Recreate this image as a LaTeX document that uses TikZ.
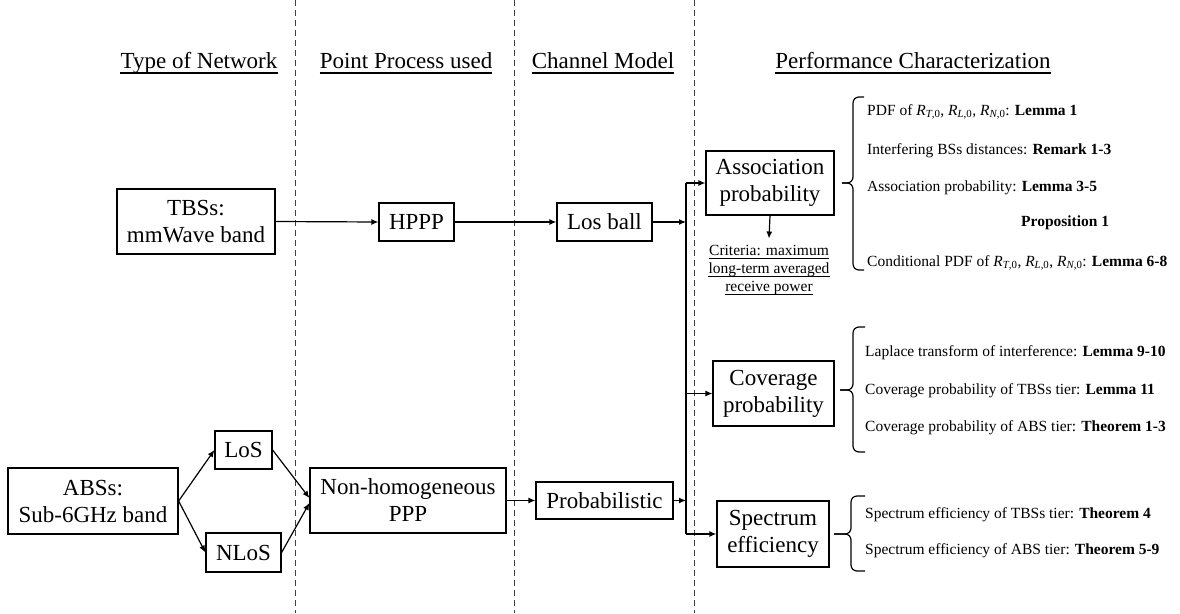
\documentclass[tikz,border=0pt]{standalone}
\usepackage{fontspec}
\setmainfont{Liberation Serif}
\usetikzlibrary{arrows.meta}
\newcommand\RsubX[1]{\textit{R}\textsubscript{\textit{#1},0}}
\begin{document}
\begin{tikzpicture}[x=1pt,y=-1pt,
  bx/.style={draw, line width=1.2pt, inner sep=0pt, align=center, font=\fontsize{23}{27}\selectfont},
  hd/.style={inner sep=0pt, anchor=base, font=\fontsize{23}{27}\selectfont},
  cr/.style={inner sep=0pt, anchor=base, font=\fontsize{15.5}{18}\selectfont},
  sd/.style={inner sep=0pt, anchor=west, font=\fontsize{15.5}{18}\selectfont},
  ar/.style={line width=1.2pt, -{Latex[length=7pt,width=6pt]}},
  br/.style={line width=1.2pt, rounded corners=6pt},
  dl/.style={dash pattern=on 6pt off 4pt, line width=0.9pt, black!75},
  ul/.style={line width=#1}
]
\useasboundingbox (0,0) rectangle (1180,613);
% dashed separators
\draw[dl] (295,0) -- (295,613);
\draw[dl] (514,0) -- (514,613);
\draw[dl] (694,0) -- (694,613);
% headers
\node[hd] (h1) at (199,68) {Type of Network};
\node[hd] (h2) at (406,68) {Point Process used};
\node[hd] (h3) at (603,68) {Channel Model};
\node[hd] (h4) at (913,68) {Performance Characterization};
\foreach \h in {h1,h2,h3,h4}
  \draw[ul=2pt] ([yshift=-4.5pt]\h.base west) -- ([yshift=-4.5pt]\h.base east);
% boxes
\node[bx, minimum width=158pt, minimum height=65pt] (tbs) at (196,221.5) {TBSs:\\mmWave band};
\node[bx, minimum width=75pt, minimum height=38pt] (hppp) at (416.5,222) {HPPP};
\node[bx, minimum width=95pt, minimum height=38pt] (lb) at (604.5,222) {Los ball};
\node[bx, minimum width=170pt, minimum height=66pt] (abs) at (93,501) {ABSs:\\Sub-6GHz band};
\node[bx, minimum width=57pt, minimum height=38pt] (los) at (243.5,450) {LoS};
\node[bx, minimum width=75pt, minimum height=39pt] (nlos) at (243.5,552.5) {NLoS};
\node[bx, minimum width=196pt, minimum height=65pt] (nh) at (408,500.5) {Non-homogeneous\\PPP};
\node[bx, minimum width=137pt, minimum height=37pt] (prob) at (604.5,500.5) {Probabilistic};
\node[bx, minimum width=128pt, minimum height=64pt] (assoc) at (770,183) {Association\\probability};
\node[bx, minimum width=121pt, minimum height=65pt] (cov) at (773.5,393.5) {Coverage\\probability};
\node[bx, minimum width=112pt, minimum height=66pt] (spec) at (773,534) {Spectrum\\efficiency};
% criteria
\node[cr] (c1) at (769,255) {Criteria: maximum};
\node[cr] (c2) at (769,273) {long-term averaged\ };
\node[cr] (c3) at (769,291) {receive power};
\foreach \c in {c1,c2,c3}
  \draw[ul=1pt] ([yshift=-3pt]\c.base west) -- ([yshift=-3pt]\c.base east);
\draw[ar] (assoc.south) -- ([yshift=6pt]c1.north);
% connectors
\coordinate (vx) at (686,0);
\draw[ar] (tbs.east) -- (hppp.west);
\draw[ar] (hppp.east) -- (lb.west);
\draw[ar] (lb.east) -- (lb.east -| vx);
\draw[ar] (abs.east) -- (los.west);
\draw[ar] (abs.east) -- (nlos.west);
\draw[ar] (los.east) -- ([yshift=2.5pt]nh.west);
\draw[ar] (nlos.east) -- ([yshift=-2.5pt]nh.west);
\draw[ar] (nh.east) -- (prob.west);
\draw[ar] (prob.east) -- (prob.east -| vx);
\draw[line width=1.2pt] (vx |- assoc.west) -- (vx |- spec.west);
\draw[ar] (vx |- assoc.west) -- (assoc.west);
\draw[ar] (vx |- cov.west) -- (cov.west);
\draw[ar] (vx |- spec.west) -- (spec.west);
% braces
\draw[br] (864,97) -- (853,97) -- (853,183) -- (842,183);
\draw[br] (842,183) -- (853,183) -- (853,270) -- (864,270);
\draw[br] (865,327) -- (853,327) -- (853,390) -- (840,390);
\draw[br] (840,390) -- (853,390) -- (853,452) -- (865,452);
\draw[br] (865,496) -- (851,496) -- (851,534) -- (834,534);
\draw[br] (834,534) -- (851,534) -- (851,571) -- (865,571);
% side texts group 1
\node[sd] (t11) at (867,112) {PDF of \RsubX{T}, \RsubX{L}, \RsubX{N}: \textbf{Lemma 1}};
\node[sd] (t12) at (867,151) {Interfering BSs distances: \textbf{Remark 1-3}};
\node[sd] (t13) at (867,188) {Association probability: \textbf{Lemma 3-5}};
\node[sd] (t14) at (1021,223) {\textbf{Proposition 1}};
\node[sd] (t15) at (867,263) {Conditional PDF of \RsubX{T}, \RsubX{L}, \RsubX{N}: \textbf{Lemma 6-8}};
% group 2
\node[sd] (t21) at (865,353) {Laplace transform of interference: \textbf{Lemma 9-10}};
\node[sd] (t22) at (865,391) {Coverage probability of TBSs tier: \textbf{Lemma 11}};
\node[sd] (t23) at (865,428) {Coverage probability of ABS tier: \textbf{Theorem 1-3}};
% group 3
\node[sd] (t31) at (865,515) {Spectrum efficiency of TBSs tier: \textbf{Theorem 4}};
\node[sd] (t32) at (865,551) {Spectrum efficiency of ABS tier: \textbf{Theorem 5-9}};
\end{tikzpicture}
\end{document}
